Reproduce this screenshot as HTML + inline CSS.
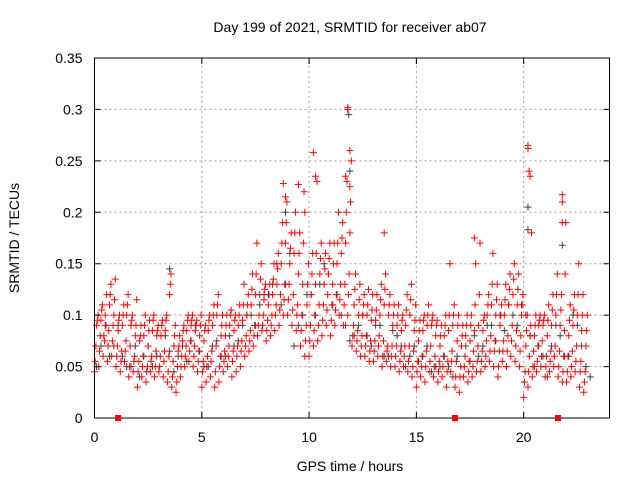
<!DOCTYPE html>
<html><head><meta charset="utf-8"><style>
body{margin:0;background:#fff}
svg{font-family:"Liberation Sans",sans-serif;display:block}
</style></head><body>
<svg id="chart" width="640" height="480" viewBox="0 0 640 480" xmlns="http://www.w3.org/2000/svg">
<text x="350" y="32" font-size="14" text-anchor="middle">Day 199 of 2021, SRMTID for receiver ab07</text>
<text transform="translate(19,238) rotate(-90)" font-size="14" text-anchor="middle">SRMTID / TECUs</text>
<text x="350" y="471" font-size="14" text-anchor="middle">GPS time / hours</text>
<g id="grid"></g>
<g id="gray"></g>
<g id="red"></g>
<g id="axes"></g>
</svg>
<script>
const xTicks=[0,5,10,15,20];
const yTicks=[0,0.05,0.1,0.15,0.2,0.25,0.3,0.35];
const yTickLabels=["0","0.05","0.1","0.15","0.2","0.25","0.3","0.35"];
const redLow=[.045,.05,.06,.055,.06,.05,.045,.055,.04,.045,.03,.04,.035,.045,.04,.045,.04,.035,.03,.025,.04,.05,.055,.05,.045,.03,.035,.04,.03,.035,.045,.05,.04,.045,.05,.06,.065,.07,.08,.085,.075,.08,.085,.09,.1,.1,.09,.085,.07,.06,.06,.07,.075,.08,.09,.08,.09,.1,.09,.1,.07,.065,.06,.06,.055,.055,.06,.05,.055,.05,.05,.045,.05,.045,.04,.03,.04,.035,.045,.04,.035,.04,.03,.045,.03,.025,.04,.035,.04,.045,.045,.05,.055,.05,.04,.055,.05,.06,.055,.05,.02,.03,.04,.045,.05,.04,.045,.05,.04,.035,.035,.04,.045,.03,.025];
const redLowMid=[.055,.065,.08,.07,.075,.06,.055,.065,.05,.055,.045,.05,.045,.055,.05,.05,.055,.045,.04,.035,.05,.06,.065,.06,.055,.045,.05,.055,.045,.05,.055,.06,.055,.06,.065,.07,.075,.08,.09,.09,.085,.09,.1,.105,.115,.115,.105,.1,.085,.075,.075,.085,.09,.095,.105,.095,.105,.115,.11,.12,.08,.075,.07,.07,.065,.065,.07,.06,.065,.06,.06,.055,.06,.055,.05,.045,.05,.05,.055,.05,.045,.05,.045,.055,.04,.04,.05,.045,.05,.055,.055,.06,.065,.065,.05,.065,.065,.075,.07,.065,.035,.045,.05,.055,.06,.05,.055,.06,.05,.045,.045,.05,.055,.045,.035];
const redMid=[.07,.08,.075,.085,.09,.07,.065,.075,.07,.06,.055,.06,.05,.06,.065,.06,.065,.06,.055,.05,.06,.07,.075,.07,.065,.055,.06,.065,.07,.06,.065,.07,.065,.07,.075,.08,.085,.09,.1,.1,.095,.1,.11,.12,.13,.13,.12,.11,.1,.09,.09,.1,.11,.11,.12,.11,.12,.13,.13,.14,.09,.085,.08,.08,.075,.075,.08,.075,.07,.07,.07,.065,.07,.07,.065,.055,.06,.065,.07,.06,.055,.06,.055,.065,.055,.05,.06,.055,.065,.07,.065,.075,.08,.075,.065,.075,.08,.09,.085,.08,.045,.06,.065,.07,.075,.06,.065,.07,.065,.06,.06,.065,.07,.055,.045];
const redHigh=[.09,.095,.1,.11,.1,.085,.09,.1,.09,.08,.075,.08,.07,.085,.08,.08,.085,.12,.07,.065,.075,.085,.09,.085,.08,.075,.085,.09,.1,.08,.08,.09,.085,.09,.095,.1,.11,.12,.12,.115,.11,.12,.13,.15,.17,.15,.16,.14,.13,.11,.12,.13,.14,.13,.14,.13,.15,.16,.17,.18,.11,.1,.1,.1,.095,.095,.1,.11,.1,.09,.09,.085,.09,.1,.085,.075,.085,.09,.09,.08,.07,.08,.085,.09,.075,.07,.08,.075,.085,.09,.085,.1,.11,.1,.09,.1,.11,.12,.11,.1,.07,.08,.08,.09,.09,.08,.09,.1,.09,.085,.08,.09,.1,.085,.07];
const redHighMid=[.095,.105,.09,.12,.115,.095,.1,.11,.095,.09,.08,.09,.085,.095,.085,.09,.095,.13,.08,.07,.085,.095,.095,.09,.09,.085,.095,.1,.11,.09,.09,.1,.095,.1,.11,.11,.125,.14,.135,.125,.12,.135,.145,.17,.19,.165,.18,.16,.17,.13,.14,.16,.155,.145,.155,.15,.17,.175,.2,.21,.125,.115,.11,.11,.105,.105,.115,.125,.11,.1,.1,.095,.105,.115,.095,.085,.095,.1,.095,.09,.08,.09,.1,.1,.09,.08,.09,.09,.11,.12,.095,.11,.13,.115,.1,.115,.125,.135,.125,.11,.085,.09,.09,.095,.095,.095,.105,.12,.105,.14,.095,.105,.12,.1,.085];
const redTop=[.1,.11,.12,.13,.135,.1,.11,.12,.1,.115,.09,.1,.095,.1,.09,.095,.1,.14,.09,.08,.09,.1,.1,.095,.1,.09,.1,.11,.12,.1,.1,.105,.1,.11,.13,.12,.14,.17,.15,.13,.13,.15,.16,.19,.21,.18,.2,.18,.22,.15,.16,.23,.17,.16,.17,.17,.2,.19,.23,.25,.14,.13,.12,.125,.12,.12,.13,.14,.12,.11,.11,.1,.12,.13,.11,.095,.1,.11,.1,.095,.09,.1,.15,.11,.1,.09,.1,.1,.15,.17,.1,.12,.16,.13,.11,.13,.14,.15,.14,.12,.1,.18,.1,.1,.1,.11,.12,.14,.12,.19,.11,.12,.15,.12,.1];
const redSpikeT=[11.8,11.8,11.9,10.2,10.3,20.2,20.2,20.25,20.3,21.8,21.8,21.8,9.5,8.8,8.9,13.5,17.7,11.7,11.9,9.8];
const redSpikeV=[.3,.302,.26,.258,.235,.265,.262,.24,.235,.217,.21,.19,.227,.228,.215,.18,.175,.235,.225,.2];
const grayVals=[.05,.09,.07,.06,.05,.04,.07,.06,.08,.045,.07,.075,.065,.05,.075,.06,.07,.09,.1,.11,.12,.15,.13,.07,.1,.12,.13,.14,.12,.09,.08,.1,.07,.09,.06,.08,.05,.07,.06,.045,.05,.05,.06,.07,.08,.07,.09,.1,.11,.09,.1,.05,.06,.07,.08,.06,.09,.05];
const grayVals2=[.07,.06,.09,.05,.07,.06,.05,.08,.065,.06,.055,.09,.05,.07,.06,.08,.075,.1,.09,.12,.13,.11,.16,.09,.12,.1,.15,.11,.1,.075,.09,.08,.09,.06,.085,.07,.06,.055,.07,.05,.06,.04,.07,.055,.06,.09,.075,.085,.1,.11,.08,.07,.04,.09,.06,.1,.07,.04];
const graySpikeT=[11.85,11.9,20.2,20.2,21.8,8.9,3.5];
const graySpikeV=[.295,.24,.205,.183,.168,.2,.145];
const markerT=[1.1,16.8,21.6];

const X0=94.5,X1=609.5,Y0=418,Y1=58;
const xs=t=>X0+t/24*(X1-X0);
const ys=v=>Y0-v/0.35*(Y0-Y1);
const NS="http://www.w3.org/2000/svg";
function mk(tag,parent,attrs){const e=document.createElementNS(NS,tag);for(const k in attrs)e.setAttribute(k,attrs[k]);parent.appendChild(e);return e;}
const grid=document.getElementById('grid'),axes=document.getElementById('axes');
xTicks.forEach(t=>{
  if(t>0){const l=mk('line',grid,{x1:xs(t),x2:xs(t),y1:Y0,y2:Y1,stroke:'#a0a0a0','stroke-dasharray':'2,3'});
  
  }
  const tk=mk('path',axes,{d:`M${xs(t)},${Y0}v-6M${xs(t)},${Y1}v6`,stroke:'#000'});
  
  
  const tx=mk('text',axes,{x:xs(t),y:Y0+24,'font-size':14,'text-anchor':'middle'});tx.textContent=t;
  
  
});
yTicks.forEach((v,i)=>{
  if(v>0&&v<0.35){const l=mk('line',grid,{x1:X0,x2:X1,y1:ys(v),y2:ys(v),stroke:'#a0a0a0','stroke-dasharray':'2,3'});
  
  }
  const tk=mk('path',axes,{d:`M${X0},${ys(v)}h6M${X1},${ys(v)}h-6`,stroke:'#000'});
  
  
  const tx=mk('text',axes,{x:X0-12,y:ys(v)+5,'font-size':14,'text-anchor':'end'});tx.textContent=yTickLabels[i];
  
  
});
const frame=mk('rect',axes,{x:X0,y:Y1,width:X1-X0,height:Y0-Y1,fill:'none',stroke:'#000'});


function cross(g,t,v,col,name){
  const p=mk('path',g,{d:`M${xs(t)-3.5},${ys(v)}h7M${xs(t)},${ys(v)-3.5}v7`,stroke:col,'stroke-width':1,fill:'none'});
  
  
}
const gray=document.getElementById('gray'),red=document.getElementById('red');
grayVals.forEach((v,i)=>cross(gray,0.1+0.4*i,v,'#404040','gray-point'));
grayVals2.forEach((v,i)=>cross(gray,0.3+0.4*i,v,'#404040','gray-point'));
graySpikeT.forEach((t,i)=>cross(gray,t,graySpikeV[i],'#404040','gray-point'));
[[redLow,0],[redLowMid,0.033],[redMid,0.066],[redHigh,0.1],[redHighMid,0.133],[redTop,0.166]].forEach(([arr,off])=>{
  arr.forEach((v,i)=>cross(red,0.2*i+off,v,'#ff0000','red-point'));
});
redSpikeT.forEach((t,i)=>cross(red,t,redSpikeV[i],'#ff0000','red-point'));
markerT.forEach(t=>{
  const r=mk('rect',axes,{x:xs(t)-3,y:Y0-3,width:6,height:6,fill:'#ff0000'});
  
  
});
</script>
</body></html>
